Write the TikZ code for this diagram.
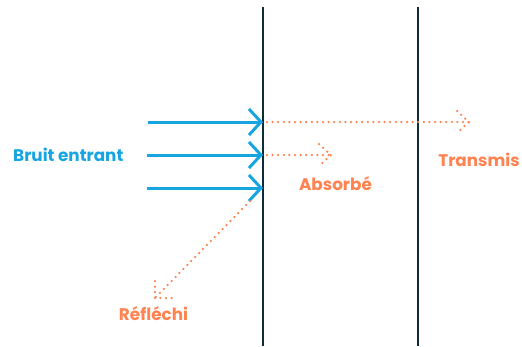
\documentclass[tikz,border=0pt]{standalone}
\usepackage{fontspec}
\setmainfont{Poppins}
\usetikzlibrary{arrows.meta,calc}
\definecolor{navy}{HTML}{0E2B3C}
\definecolor{sky}{HTML}{16A5E0}
\definecolor{coral}{HTML}{FF8250}
\tikzset{
  wall/.style={draw=navy,line width=2.6pt},
  inray/.style={draw=sky,line width=3pt,-{Straight Barb[length=12pt,width=26pt,line width=3pt]}},
  outray/.style={draw=coral,line width=2.5pt,line cap=round,dash pattern=on 0pt off 5.6pt},
  lbl/.style={font=\fontsize{16.8}{20}\selectfont\bfseries,inner sep=0pt}
}
\begin{document}
\begin{tikzpicture}[x=1pt,y=-1pt]
\useasboundingbox (0,0) rectangle (522,346);
% walls
\coordinate (w1t) at (263,7); \coordinate (w1b) at (263,346);
\coordinate (w2t) at (418,7); \coordinate (w2b) at (418,346);
\draw[wall] (w1t) -- (w1b);
\draw[wall] (w2t) -- (w2b);
% incoming rays
\coordinate (a1) at (148,122); \coordinate (b1) at (263,122);
\coordinate (a2) at (147,155); \coordinate (b2) at (263,155);
\coordinate (a3) at (147,188); \coordinate (b3) at (263,188);
\draw[inray] (a1) -- (b1);
\draw[inray] (a2) -- (b2);
\draw[inray] (a3) -- (b3);
% transmitted
\coordinate (t0) at (267,122); \coordinate (t1) at (469,122);
\draw[outray] (t0) -- (t1);
\draw[outray] ($(t1)+(-12,-11)$) -- (t1) -- ($(t1)+(-12,11)$);
% absorbed
\coordinate (s0) at (267,155); \coordinate (s1) at (331,155);
\draw[outray] (s0) -- (s1);
\draw[outray] ($(s1)+(-12,-11)$) -- (s1) -- ($(s1)+(-12,11)$);
% reflected
\coordinate (r0) at (250,201); \coordinate (r1) at (155,298);
\draw[outray] (r0) -- (r1);
\draw[outray] ($(r1)+(0,-17)$) -- (r1) -- ($(r1)+(17,0)$);
% labels
\node[lbl,text=sky,anchor=west] (lin) at (13,155) {Bruit entrant};
\node[lbl,text=coral] (labs) at (335.5,184) {Absorbé};
\node[lbl,text=coral] (ltr) at (479,160) {Transmis};
\node[lbl,text=coral] (lrf) at (153.5,314) {Réfléchi};
\end{tikzpicture}
\end{document}
